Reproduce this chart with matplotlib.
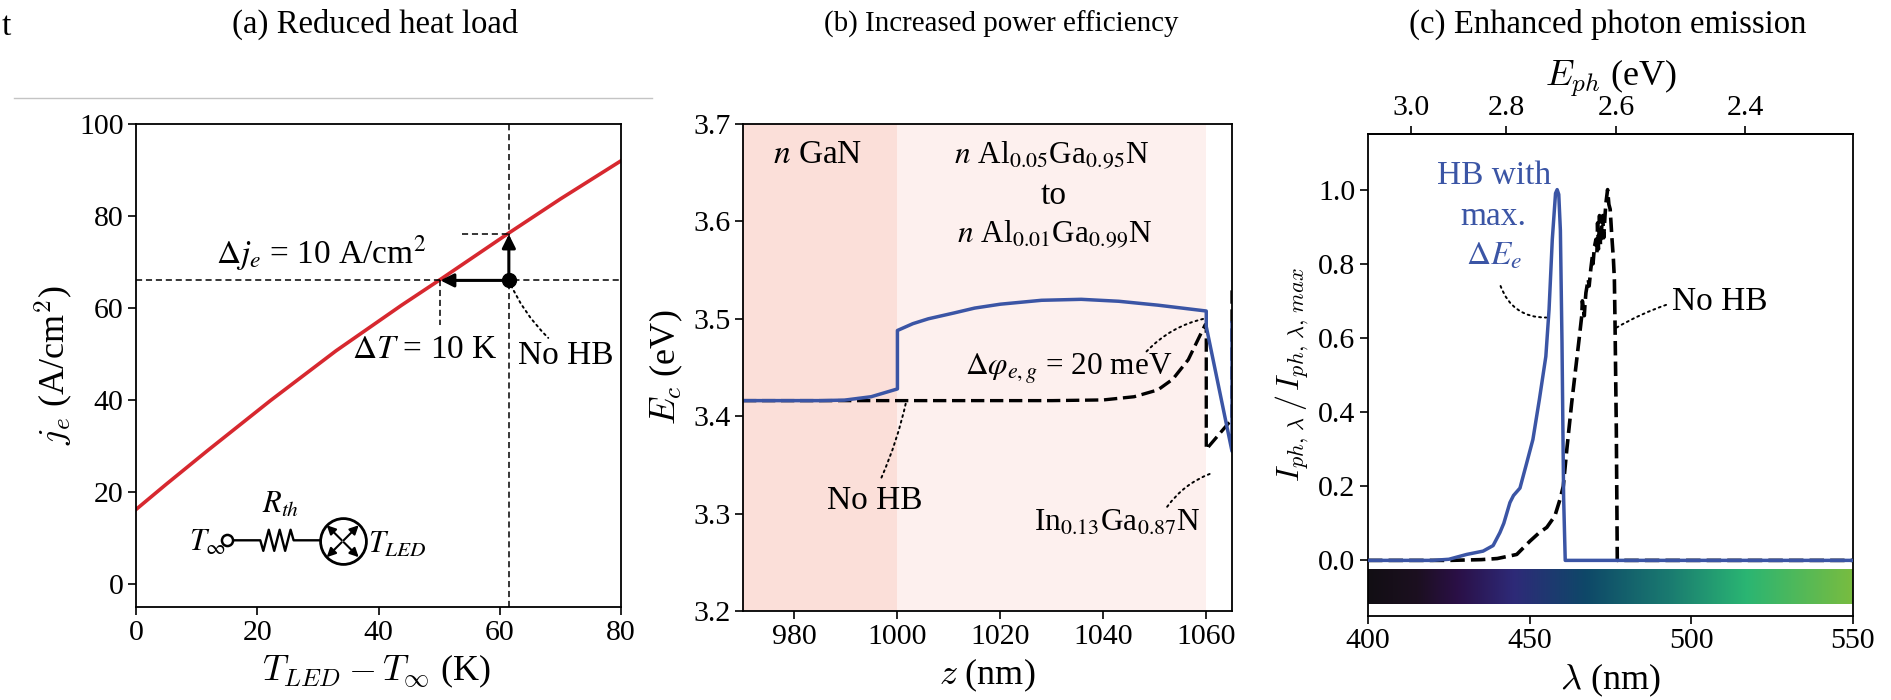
import numpy as np
import matplotlib
matplotlib.use("Agg")
import matplotlib.pyplot as plt
from matplotlib.colors import LinearSegmentedColormap
from matplotlib.lines import Line2D

# (a) heat load curve
T_diff = [0, 5, 11.8, 22.2, 33, 43.8, 50.2, 61.5, 70, 80]
j_e = [16.2, 21.7, 29, 39.9, 50.7, 60.6, 66.2, 76.3, 83.7, 92]
T_op = 61.5
j_op = 66
T_hb = 50.2
j_hb = 76
j_drop = 56.4
T_dash = 53.7

# circuit inset, in the axes data units of panel (a)
wire_T = [15, 20.5, 21, 21.9, 22.8, 23.7, 24.6, 25.5, 26, 34]
wire_j = [9.5, 9.5, 7.2, 11.8, 7.2, 11.8, 7.2, 11.8, 9.5, 9.5]
led_T = 34.1
led_j = 9.3

# (b) conduction band edge
z_hb = [970, 985, 989.7, 994.9, 1000, 1000, 1003, 1006, 1011, 1015, 1020, 1028, 1035.7, 1043, 1050.6, 1060, 1060,
        1065, 1065]
Ec_hb = [3.416, 3.416, 3.4165, 3.42, 3.428, 3.488, 3.495, 3.5, 3.506, 3.511, 3.515, 3.519, 3.52, 3.518, 3.514,
         3.508, 3.492, 3.364, 3.496]
z_no = [970, 1000, 1030, 1040, 1046, 1050.6, 1053.5, 1056.5, 1059.8, 1060, 1060, 1065, 1065]
Ec_no = [3.416, 3.416, 3.416, 3.4167, 3.42, 3.427, 3.438, 3.458, 3.494, 3.494, 3.366, 3.397, 3.53]

# (c) normalised spectra
lam_hb = [400, 420, 425, 430.5, 435.6, 438.7, 440.8, 442, 443.9, 445, 447, 449, 451, 453, 455, 456, 457, 458, 458.5,
          459, 459.5, 460, 460.5, 461, 550]
I_hb = [0, 0, 0.003, 0.016, 0.025, 0.04, 0.075, 0.1, 0.156, 0.175, 0.195, 0.26, 0.326, 0.434, 0.55, 0.677, 0.866,
        0.99, 1.0, 0.987, 0.89, 0.587, 0.17, 0, 0]
lam_no = [400, 425, 435, 440, 446, 450.1, 453, 455.3, 457.8, 459.4, 460.4, 461.5, 463, 465.4, 466.1, 466.3, 466.9,
          467.1, 467.4, 468.1, 468.4, 468.9, 469.4, 469.6, 470, 470.5, 470.8, 471, 471.3, 471.6, 471.9, 472.3,
          472.6, 472.9, 473.3, 473.6, 474.1, 474.5, 474.9, 475.4, 475.9, 476.2, 476.4, 476.8, 477.1, 550]
I_no = [0, 0, 0.002, 0.005, 0.016, 0.052, 0.075, 0.089, 0.12, 0.165, 0.2, 0.3, 0.425, 0.605, 0.659, 0.7, 0.66,
        0.69, 0.722, 0.758, 0.74, 0.785, 0.821, 0.8, 0.844, 0.866, 0.83, 0.91, 0.84, 0.93, 0.85, 0.9,
        0.93, 0.87, 0.93, 0.965, 1.0, 0.96, 0.947, 0.875, 0.812, 0.758, 0.64, 0.353, 0, 0]
E_ticks = [3.0, 2.8, 2.6, 2.4]
spectrum_colors = ["#120e14", "#1c1020", "#2a0f45", "#2e2a78", "#0e4868", "#1a7a70", "#2ab573", "#78bc40"]
spectrum_stops = [0, 0.1, 0.18, 0.3, 0.45, 0.62, 0.78, 1]

RED = "#d7282f"
BLUE = "#3b55a5"
SERIF = ["Liberation Serif", "DejaVu Serif"]

plt.rcParams["font.family"] = SERIF
plt.rcParams["mathtext.fontset"] = "cm"
plt.rcParams["font.size"] = 21.5
plt.rcParams["axes.linewidth"] = 1.3
plt.rcParams["xtick.major.size"] = 5.5
plt.rcParams["ytick.major.size"] = 5.5
plt.rcParams["xtick.major.width"] = 1.2
plt.rcParams["ytick.major.width"] = 1.2

W = 1891.0
H = 700.0
NOTE_SIZE = 24
FORMULA_SIZE = 22.5
LABEL_SIZE = 26


def AxesAt(fig, left, right, top, bottom):
    return fig.add_axes([left / W, 1 - bottom / H, (right - left) / W, (bottom - top) / H])


def Note(ax, text, x, y, size=NOTE_SIZE, **kw):
    # annotation text is Times like, the axis labels stay in computer modern
    return ax.text(x, y, text, ha="center", va="center", math_fontfamily="stix", fontsize=size, **kw)


def Leader(ax, start, end, rad):
    ax.annotate("", xy=end, xytext=start,
                arrowprops=dict(arrowstyle="-", ls=(0, (1, 2)), lw=1.4, color="black", shrinkA=0, shrinkB=0,
                                connectionstyle="arc3,rad=%g" % rad))


def PanelA(ax):
    ax.plot(T_diff, j_e, color=RED, lw=2.6)
    ax.axvline(T_op, color="black", ls=(0, (4, 2.5)), lw=1.1)
    ax.axhline(j_op, color="black", ls=(0, (4, 2.5)), lw=1.1)
    ax.plot([T_dash, T_op], [j_hb, j_hb], color="black", ls=(0, (4, 2.5)), lw=1.1)
    ax.plot([T_hb, T_hb], [j_op, j_drop], color="black", ls=(0, (4, 2.5)), lw=1.1)
    for end in [(T_hb, j_op), (T_op, j_hb)]:
        ax.annotate("", xy=end, xytext=(T_op, j_op),
                    arrowprops=dict(arrowstyle="-|>", mutation_scale=20, lw=2.2, color="black", shrinkA=0, shrinkB=0))
    ax.plot([T_op], [j_op], "o", color="black", ms=10)
    Leader(ax, (T_op, j_op), (68, 53.5), 0.1)
    Note(ax, r"$\Delta j_e$ = 10 A/cm$^2$", 30.6, 72)
    Note(ax, r"$\Delta T$ = 10 K", 47.7, 51)
    Note(ax, "No HB", 70.9, 49.7)

    ax.plot(wire_T, wire_j, color="black", lw=1.7, zorder=2)
    ax.plot([wire_T[0]], [wire_j[0]], "o", mfc="white", mec="black", mew=1.8, ms=8, zorder=3)
    ax.plot([led_T], [led_j], "o", mfc="white", mec="black", mew=2, ms=33, zorder=3)
    for dx, dy in [(-1, -1), (1, -1), (-1, 1), (1, 1)]:
        ax.annotate("", xy=(led_T, led_j), xytext=(dx * 11.5, dy * 11.5), textcoords="offset points", zorder=4,
                    arrowprops=dict(arrowstyle="<|-", mutation_scale=13, lw=1.5, color="black", shrinkA=0, shrinkB=1))
    Note(ax, r"$T_\infty$", 11.8, 8.8, size=22)
    Note(ax, r"$R_{th}$", 23.8, 17.2, size=22)
    Note(ax, r"$T_{LED}$", 43.2, 8.5, size=22)

    ax.set_xlim(0, 80)
    ax.set_ylim(-5, 100)
    ax.set_xticks([0, 20, 40, 60, 80])
    ax.set_yticks([0, 20, 40, 60, 80, 100])
    ax.set_xlabel(r"$T_{LED}-T_{\infty}$ (K)", fontsize=LABEL_SIZE, labelpad=5, x=0.495)
    ax.set_ylabel(r"$j_e$ (A/cm$^2$)", fontsize=LABEL_SIZE, labelpad=3)


def PanelB(ax):
    ax.axvspan(970, 1000, color="#fbdfd9", lw=0)
    ax.axvspan(1000, 1060, color="#fdf0ee", lw=0)
    ax.plot(z_no, Ec_no, color="black", ls=(0, (4, 1.7)), lw=2.4)
    ax.plot(z_hb, Ec_hb, color=BLUE, lw=2.5)
    Note(ax, r"$n$ GaN", 984.5, 3.668)
    Note(ax, r"$n$ Al$_{0.05}$Ga$_{0.95}$N", 1029.9, 3.668, size=FORMULA_SIZE)
    Note(ax, "to", 1030.3, 3.626)
    Note(ax, r"$n$ Al$_{0.01}$Ga$_{0.99}$N", 1030.6, 3.587, size=FORMULA_SIZE)
    Note(ax, r"$\Delta\varphi_{e,g}$ = 20 meV", 1033.3, 3.448, size=FORMULA_SIZE)
    Note(ax, "No HB", 995.6, 3.313)
    Note(ax, r"In$_{0.13}$Ga$_{0.87}$N", 1042.7, 3.29, size=FORMULA_SIZE)
    Leader(ax, (1048.4, 3.4665), (1059.5, 3.5), -0.15)
    Leader(ax, (996.9, 3.337), (1001.7, 3.415), 0.05)
    Leader(ax, (1052.4, 3.307), (1060.8, 3.341), -0.15)
    ax.set_xlim(970, 1065)
    ax.set_ylim(3.2, 3.7)
    ax.set_xticks([980, 1000, 1020, 1040, 1060])
    ax.set_yticks([3.2, 3.3, 3.4, 3.5, 3.6, 3.7])
    ax.set_xlabel(r"$z$ (nm)", fontsize=LABEL_SIZE, labelpad=5)
    ax.set_ylabel(r"$E_c$ (eV)", fontsize=LABEL_SIZE, labelpad=6)


def PanelC(ax):
    cmap = LinearSegmentedColormap.from_list("spectrum", list(zip(spectrum_stops, spectrum_colors)))
    strip = np.linspace(0, 1, 256).reshape(1, -1)
    ax.imshow(strip, extent=[400, 550, -0.118, -0.024], aspect="auto", cmap=cmap, zorder=1)
    ax.plot(lam_no, I_no, color="black", ls=(0, (4, 1.7)), lw=2.6, zorder=2)
    ax.plot(lam_hb, I_hb, color=BLUE, lw=2.5, zorder=3)
    Note(ax, "HB with", 439, 1.037, color=BLUE)
    Note(ax, "max.", 438.8, 0.928, color=BLUE)
    Note(ax, r"$\Delta E_e$", 438.9, 0.82, color=BLUE)
    Note(ax, "No HB", 508.8, 0.697)
    Leader(ax, (441, 0.74), (455.1, 0.655), 0.35)
    Leader(ax, (476.9, 0.628), (492.5, 0.69), -0.05)
    ax.set_xlim(400, 550)
    ax.set_ylim(-0.15, 1.15)
    ax.set_xticks([400, 450, 500, 550])
    ax.set_yticks([0, 0.2, 0.4, 0.6, 0.8, 1.0])
    ax.set_xlabel(r"$\lambda$ (nm)", fontsize=LABEL_SIZE, labelpad=5)
    ax.set_ylabel(r"$I_{ph,\,\lambda}\,/\,I_{ph,\,\lambda,\,max}$", fontsize=23, labelpad=5)
    top = ax.secondary_xaxis("top", functions=(lambda x: 1239.8 / np.maximum(x, 1), lambda x: 1239.8 / np.maximum(x, 1e-3)))
    top.set_xticks(E_ticks)
    top.set_xticklabels(["%.1f" % e for e in E_ticks])
    top.set_xlabel(r"$E_{ph}$ (eV)", fontsize=LABEL_SIZE, labelpad=7)


def main():
    fig = plt.figure(figsize=(W / 100, H / 100), dpi=100)
    ax1 = AxesAt(fig, 136, 621, 124, 607)
    ax2 = AxesAt(fig, 743, 1232, 124, 611)
    ax3 = AxesAt(fig, 1368, 1853, 134, 616)
    PanelA(ax1)
    PanelB(ax2)
    PanelC(ax3)
    fig.text(375 / W, 1 - 24 / H, "(a) Reduced heat load", ha="center", va="center", fontsize=23.6)
    fig.text(1001 / W, 1 - 24 / H, "(b) Increased power efficiency", ha="center", va="center", fontsize=20.9)
    fig.text(1608 / W, 1 - 24 / H, "(c) Enhanced photon emission", ha="center", va="center", fontsize=23.6)
    fig.text(2 / W, 1 - 27 / H, "t", ha="left", va="center", fontsize=24)
    fig.add_artist(Line2D([14 / W, 652 / W], [1 - 98 / H, 1 - 98 / H], color="#c4c4c4", lw=1))
    fig.savefig("out.png", dpi=100)
    return


main()
